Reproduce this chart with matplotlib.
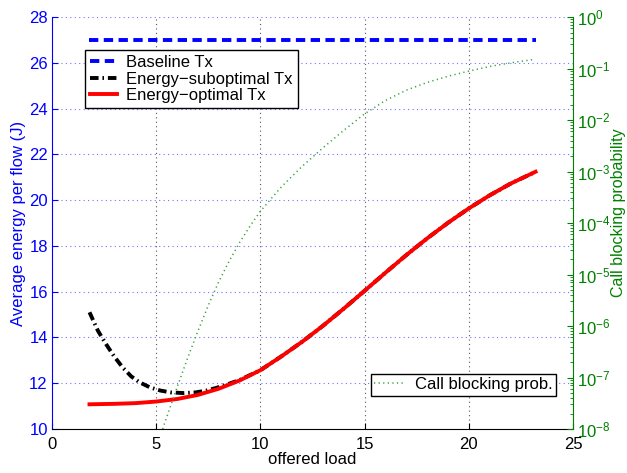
import numpy as np
import matplotlib
matplotlib.use("Agg")
import matplotlib.pyplot as plt
from matplotlib.ticker import FixedLocator, LogLocator, NullFormatter

plt.rcParams['font.family'] = ['Liberation Sans', 'DejaVu Sans']
plt.rcParams['mathtext.default'] = 'regular'

# offered load vs. average energy per flow (J)
baseline_x = [1.8, 23.2]
baseline_y = [27.0, 27.0]

subopt_x = [1.8, 2.2, 2.6, 3.0, 3.4, 3.8, 4.2, 4.7, 5.2, 5.7, 6.3, 6.9, 7.4, 7.9, 8.5, 9.0,
            10, 11, 12, 13, 14, 15, 16, 17, 18, 19, 20, 21, 22, 23.2]
subopt_y = [15.1, 14.3, 13.7, 13.15, 12.68, 12.3, 12.04, 11.82, 11.68, 11.6, 11.57, 11.6, 11.68,
            11.8, 11.98, 12.14, 12.57, 13.17, 13.81, 14.51, 15.26, 16.04, 16.83, 17.6, 18.33,
            19.01, 19.64, 20.21, 20.72, 21.24]

opt_x = [1.8, 3, 4, 5, 6, 7, 8, 9, 10, 11, 12, 13, 14, 15, 16, 17, 18, 19, 20, 21, 22, 23.2]
opt_y = [11.08, 11.1, 11.13, 11.2, 11.31, 11.49, 11.76, 12.12, 12.57, 13.17, 13.81, 14.51, 15.26,
         16.04, 16.83, 17.6, 18.33, 19.01, 19.64, 20.21, 20.72, 21.24]

# call blocking probability (log10)
block_x = [5.31, 5.7, 6.1, 6.5, 7.0, 7.5, 8.0, 8.5, 9.0, 9.5, 10, 11, 12, 13, 14, 15, 16, 17,
           18, 19, 20, 21, 22, 23.18]
block_log = [-8.0, -7.54, -7.08, -6.63, -6.1, -5.6, -5.14, -4.74, -4.38, -4.06, -3.77, -3.3, -2.9,
             -2.54, -2.2, -1.88, -1.62, -1.42, -1.27, -1.15, -1.05, -0.96, -0.89, -0.82]

blue = (0, 0, 1)
green = (0, 0.5, 0)

fig = plt.figure(figsize=(6.27, 4.73), dpi=100)
ax = fig.add_axes([0.0829, 0.093, 0.8311, 0.871])
ax2 = ax.twinx()

ax.plot(baseline_x, baseline_y, color=blue, lw=2.8, dashes=(2.4, 1.4), label='Baseline Tx')
ax.plot(subopt_x, subopt_y, color='black', lw=2.8, dashes=(2.2, 1.0, 0.4, 1.0),
        label='Energy\u2212suboptimal Tx')
ax.plot(opt_x, opt_y, color='red', lw=2.8, label='Energy\u2212optimal Tx')

ax2.semilogy(block_x, 10.0 ** np.array(block_log), color='#3a9e3a', lw=1.1,
             dashes=(0.8, 2.2), label='Call blocking prob.')

ax.set_xlim(0, 25)
ax.set_ylim(10, 28)
ax.set_xticks([0, 5, 10, 15, 20, 25])
ax.set_yticks(np.arange(10, 29, 2))
ax2.set_ylim(1e-8, 1)
ax2.yaxis.set_major_locator(FixedLocator([10.0 ** k for k in range(-8, 1)]))
ax2.set_yticklabels([r'$10^{%d}$' % k for k in range(-8, 1)])
ax2.yaxis.set_minor_locator(LogLocator(base=10, subs=np.arange(2, 10), numticks=20))
ax2.yaxis.set_minor_formatter(NullFormatter())

# grids: dark dotted vertical, blue dotted horizontal
ax.xaxis.grid(True, color='#555555', linestyle=(0, (1, 3)), lw=0.8)
ax.yaxis.grid(True, color=(0.45, 0.45, 1.0), linestyle=(0, (1, 3)), lw=0.8)
ax.set_axisbelow(True)

for a in (ax, ax2):
    a.spines['top'].set_visible(False)
ax.spines['left'].set_color(blue)
ax.spines['right'].set_visible(False)
ax2.spines['left'].set_visible(False)
ax2.spines['bottom'].set_visible(False)
ax2.spines['right'].set_color(green)

ax.tick_params(axis='x', direction='in', length=4, labelsize=12, colors='black', pad=6)
ax.tick_params(axis='y', direction='in', length=4, labelsize=12, colors=blue, pad=3)
ax2.tick_params(axis='y', which='major', direction='in', length=4, labelsize=12, colors=green, pad=3)
ax2.tick_params(axis='y', which='minor', direction='in', length=2, colors=green)

ax.set_xlabel('offered load', fontsize=12, labelpad=0)
ax.set_ylabel('Average energy per flow (J)', fontsize=12, color=blue, labelpad=2)
ax2.set_ylabel('Call blocking probability', fontsize=11.5, color=green, labelpad=1)
ax2.yaxis.set_label_coords(1.073, 0.525)

leg1 = ax.legend(loc='upper left', bbox_to_anchor=(0.063, 0.92), fontsize=12,
                 fancybox=False, edgecolor='black', framealpha=1, borderaxespad=0,
                 handlelength=1.65, labelspacing=0.1, borderpad=0.3, handletextpad=0.55)
leg1.get_frame().set_linewidth(1.0)
leg2 = ax2.legend(loc='lower right', bbox_to_anchor=(0.967, 0.081), fontsize=12,
                  fancybox=False, edgecolor='black', framealpha=1, borderaxespad=0,
                  handlelength=1.9, borderpad=0.2, handletextpad=0.55)
leg2.get_frame().set_linewidth(1.0)

fig.savefig('out.png', dpi=100)
